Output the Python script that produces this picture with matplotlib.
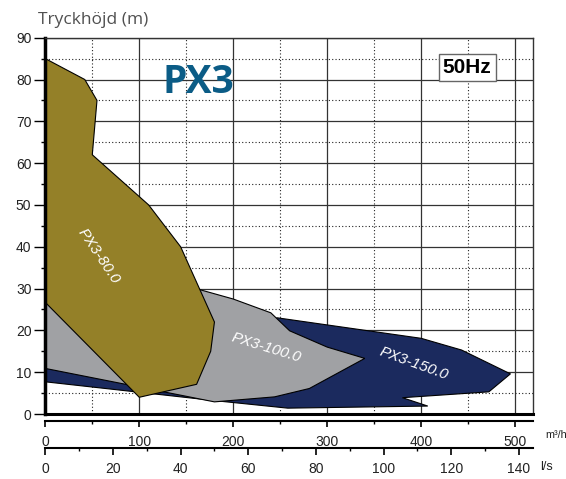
import matplotlib.pyplot as plt
from matplotlib.patches import Polygon
from matplotlib.ticker import MultipleLocator, FixedLocator

plt.rcParams['font.family'] = ['Liberation Sans', 'DejaVu Sans']

# === 数据 (m³/h, m) ===
px80_q = [0, 42, 55, 50, 110, 144, 180, 176, 161, 100, 0]
px80_h = [85, 80, 75, 62, 50, 40, 22, 15, 7.1, 4, 26.7]

px100_q = [0, 165, 200, 240, 260, 300, 340, 281, 244, 180, 0]
px100_h = [26.7, 29.7, 27.5, 24.2, 19.9, 16, 13.3, 6.1, 4.1, 2.9, 10.9]

px150_q = [0, 247, 400, 443, 495, 472, 380, 407, 258, 180, 0]
px150_h = [10.9, 23, 18.1, 15.3, 9.6, 5.3, 3.9, 1.9, 1.4, 3.2, 7.7]

series = [
    ('PX3-150.0', px150_q, px150_h, '#1b2a5e', 392, 12.0, -20),
    ('PX3-100.0', px100_q, px100_h, '#a0a1a4', 235, 15.9, -17),
    ('PX3-80.0', px80_q, px80_h, '#948028', 57, 37.8, -56),
]

q_major = [0, 100, 200, 300, 400, 500]
q_minor = [50, 150, 250, 350, 450]
ls_major = [0, 20, 40, 60, 80, 100, 120, 140]
ls_minor = [10, 30, 50, 70, 90, 110, 130]

W, H = 566, 479
fig = plt.figure(figsize=(W / 100, H / 100), dpi=100)
ax = fig.add_axes([45.3 / W, 1 - 414 / H, (533 - 45.3) / W, (414 - 37.7) / H])

for name, q, h, color, lx, ly, rot in series:
    ax.add_patch(Polygon(list(zip(q, h)), closed=True, facecolor=color,
                         edgecolor='black', linewidth=0.8, zorder=2))
    ax.text(lx, ly, name, color='white', fontsize=11, style='italic',
            rotation=rot, ha='center', va='center', rotation_mode='anchor', zorder=4)

ax.set_xlim(0, 519)
ax.set_ylim(0, 90)
ax.xaxis.set_major_locator(FixedLocator(q_major))
ax.xaxis.set_minor_locator(FixedLocator(q_minor))
ax.yaxis.set_major_locator(MultipleLocator(10))
ax.yaxis.set_minor_locator(MultipleLocator(5))
ax.set_axisbelow(True)
ax.grid(which='major', color='#333333', linewidth=0.9, linestyle='-')
ax.grid(which='minor', color='#222222', linewidth=0.8, linestyle=(0, (1, 2)))
ax.tick_params(axis='x', which='both', bottom=False, labelbottom=False)
ax.tick_params(axis='y', which='major', length=8, width=1, labelsize=10, pad=2, labelcolor='#222222')
ax.tick_params(axis='y', which='minor', length=3, width=1)

ax.spines['left'].set_linewidth(2.5)
ax.spines['bottom'].set_linewidth(2.2)
for s in ['top', 'right']:
    ax.spines[s].set_linewidth(1.0)
    ax.spines[s].set_color('#333333')

# m³/h 轴
sec1 = ax.secondary_xaxis(-6.7 / 376.3)
sec1.xaxis.set_major_locator(FixedLocator(q_major))
sec1.xaxis.set_minor_locator(FixedLocator(q_minor))
sec1.spines['bottom'].set_linewidth(1.5)
sec1.tick_params(which='major', length=4.5, width=1.2, labelsize=10, pad=6, labelcolor='#222222')
sec1.tick_params(which='minor', length=2.5, width=1)

# l/s 轴
sec2 = ax.secondary_xaxis(-34.3 / 376.3, functions=(lambda x: x / 3.6, lambda x: x * 3.6))
sec2.xaxis.set_major_locator(FixedLocator(ls_major))
sec2.xaxis.set_minor_locator(FixedLocator(ls_minor))
sec2.spines['bottom'].set_linewidth(1.5)
sec2.tick_params(which='major', length=5, width=1.2, labelsize=10, pad=5, labelcolor='#222222')
sec2.tick_params(which='minor', length=2.5, width=1)

fig.text(545 / W, 1 - 435 / H, 'm³/h', fontsize=7.8, va='center', ha='left', color='#222222')
fig.text(540 / W, 1 - 467 / H, 'l/s', fontsize=9, va='center', ha='left', color='#222222')

fig.text(38 / W, 1 - 24 / H, 'Tryckhöjd (m)', fontsize=12.5, family=['Open Sans', 'DejaVu Sans'],
         color='#505050', va='baseline', ha='left')

ax.text(162.6, 76.8, 'PX3', fontsize=28, family=['Open Sans', 'DejaVu Sans'], weight='bold',
        color='#0b5c86', ha='center', va='baseline', zorder=5)

ax.text(449, 81.6, '50Hz', fontsize=15, weight='bold', color='black',
        ha='center', va='baseline', zorder=5,
        bbox=dict(boxstyle='square,pad=0.2', facecolor='white', edgecolor='#666666', linewidth=1))

fig.savefig('out.png', dpi=100)
